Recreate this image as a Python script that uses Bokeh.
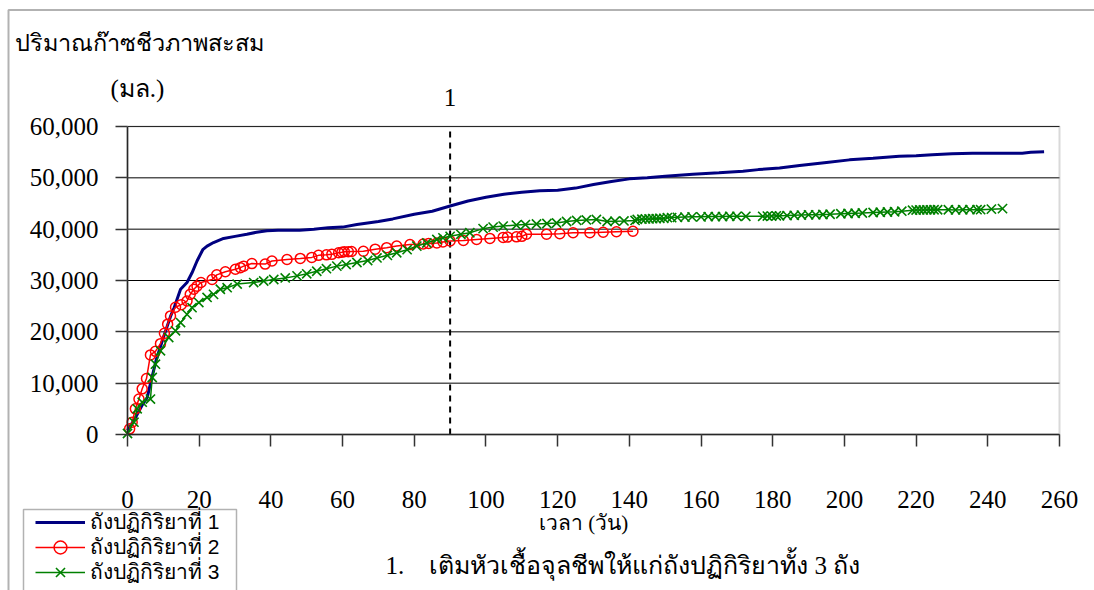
from bokeh.plotting import figure
from bokeh.models import (Range1d, Label, Legend, LegendItem, NumeralTickFormatter, FixedTicker,
                          BoxAnnotation, LinearAxis)
from bokeh.embed import file_html
from bokeh.resources import INLINE

# ---- data ----
days1 = [0, 2, 4, 5.5, 6.4, 8, 10, 12, 13, 14.8, 16.6, 18, 19.4, 21, 22.2, 24, 26.8, 30, 33.3, 36,
         38.9, 42, 48, 52, 56, 60, 64, 70, 74, 80, 85, 90, 95, 100, 105, 110, 115, 120, 125, 130,
         135, 140, 145, 150, 157.7, 165, 171.7, 176, 181.9, 187.5, 195, 201.4, 208, 215.3, 220,
         224.5, 230, 235.7, 245, 249.6, 252, 255.7]
gas1 = [800, 3000, 5600, 7200, 9900, 14500, 18900, 23000, 24700, 28300, 29600, 31500, 33800, 36000,
        36700, 37400, 38200, 38600, 39000, 39400, 39700, 39800, 39800, 40000, 40300, 40400, 40900,
        41500, 42000, 42900, 43500, 44500, 45500, 46200, 46800, 47200, 47500, 47600, 48000, 48700,
        49300, 49800, 50000, 50300, 50700, 51000, 51300, 51600, 51900, 52400, 53000, 53500, 53800,
        54200, 54300, 54500, 54700, 54800, 54800, 54800, 55000, 55100]

days2 = [0.6, 1.3, 2.2, 3.2, 4.1, 5.3, 6.4, 7.8, 9.2, 10.3, 11.2, 12, 13.4, 15, 16.6, 17.5, 18.5,
         19.4, 20.5, 23.6, 24.9, 27.3, 30.1, 31.5, 32.4, 34.7, 38.4, 40.3, 44.5, 48.2, 51.4, 53.3,
         55.5, 57, 58.9, 59.8, 60.5, 61.6, 62.5, 65.8, 69.1, 72.3, 75.1, 78.8, 82.5, 84, 86.3, 88,
         90, 93.7, 97.4, 101.1, 104.8, 106, 108.5, 110, 111.3, 116.9, 120.6, 124.3, 129, 132.7,
         136.4, 141]
gas2 = [1100, 2400, 5000, 6900, 8900, 10900, 15500, 16200, 17700, 19700, 21500, 23100, 24800, 25300,
        26000, 27300, 28300, 28900, 29600, 30200, 31100, 31700, 32200, 32500, 32800, 33300, 33200,
        33800, 34100, 34300, 34500, 34900, 35000, 35100, 35400, 35500, 35600, 35600, 35650, 35700,
        36100, 36400, 36700, 37000, 37100, 37200, 37300, 37500, 37700, 37800, 38000, 38200, 38400,
        38450, 38500, 38600, 39000, 39000, 39100, 39300, 39300, 39400, 39500, 39600]

days3 = [0, 1.8, 2.7, 4.1, 6.4, 6.9, 7.8, 9.2, 11.5, 13.4, 14.8, 16.6, 18, 19.9, 22.2, 24, 25.9,
         27.8, 30.6, 35.2, 38, 40.8, 44, 47.3, 50, 52.8, 55.5, 58.4, 61, 64, 67, 69.6, 72.5, 75.1,
         78, 80.7, 83.5, 86.3, 88, 90, 93, 95.5, 99.2, 102, 104.8, 108.5, 111, 114.1, 117, 119.7,
         122.5, 125.3, 128, 130.8, 133.8, 136, 138.5, 141.6, 142.2, 143.5, 144.5, 145.5, 146.5,
         147.5, 148.5, 149.6, 150.6, 151.8, 153.4, 155.5, 157.5, 160, 162, 164, 166, 168, 170,
         172.5, 177.2, 178.5, 179.7, 181, 181.9, 184, 186, 188, 190, 192, 194, 196, 199, 201, 203,
         205, 208, 210, 212, 214, 216, 219, 220, 221, 222, 223, 224, 225, 226, 229, 231, 233, 235,
         237, 238, 241, 244.1]
gas3 = [200, 2400, 5000, 6300, 6900, 11100, 13700, 16300, 18900, 20200, 21800, 23400, 24700, 25700,
        26700, 27300, 28300, 28600, 29300, 29600, 29900, 30200, 30500, 30900, 31300, 31800, 32300,
        32800, 33100, 33500, 33900, 34400, 34900, 35400, 36000, 36700, 37300, 38000, 38300, 38600,
        39000, 39300, 40100, 40400, 40600, 40800, 40900, 41000, 41100, 41200, 41500, 41700, 41800,
        41900, 41500, 41550, 41600, 41700, 41900, 41950, 42000, 42000, 42050, 42050, 42100, 42100,
        42250, 42250, 42300, 42350, 42400, 42400, 42450, 42450, 42450, 42500, 42500, 42500, 42500,
        42550, 42550, 42600, 42600, 42650, 42700, 42750, 42800, 42800, 42850, 42900, 43000, 43050,
        43100, 43150, 43250, 43300, 43350, 43400, 43500, 43700, 43720, 43750, 43750, 43770, 43770,
        43780, 43780, 43780, 43750, 43780, 43800, 43800, 43800, 43900, 44000]

series_names = ["ถังปฏิกิริยาที่ 1", "ถังปฏิกิริยาที่ 2", "ถังปฏิกิริยาที่ 3"]
x_ticks = list(range(0, 261, 20))
y_ticks = list(range(0, 60001, 10000))
X_MIN, X_MAX = 0, 260
Y_MIN, Y_MAX = 0, 60000
event_day = 90
event_label = "1"
title_text = "ปริมาณก๊าซชีวภาพสะสม"
unit_text = "(มล.)"
x_title = "เวลา (วัน)"
note_text = "1.\u00a0\u00a0\u00a0\u00a0เติมหัวเชื้อจุลชีพให้แก่ถังปฏิกิริยาทั้ง 3 ถัง"

SERIF = "Liberation Serif"
SANS = "Liberation Sans"

# pixel geometry of the plot area inside the 1094x590 canvas
W, H = 1094, 590
PL, PR, PT, PB = 127, 1059, 126, 434
sx = (X_MAX - X_MIN) / (PR - PL)      # data units per pixel (x)
sy = (Y_MAX - Y_MIN) / (PB - PT)      # data units per pixel (y)

def dx(px):
    return X_MIN + (px - PL) * sx

def dy(py):
    return Y_MIN + (PB - py) * sy

p = figure(width=W, height=H, output_backend="svg", toolbar_location=None,
           x_range=Range1d(dx(0), dx(W)), y_range=Range1d(dy(H), dy(0)),
           x_axis_type=None, y_axis_type=None,
           min_border=0, min_border_left=0, min_border_right=0,
           min_border_top=0, min_border_bottom=0)
p.title.visible = False
p.background_fill_color = "white"
p.border_fill_color = "white"
p.outline_line_color = None
p.grid.visible = False

# horizontal gridlines across the plot area only
p.segment(x0=[X_MIN] * len(y_ticks), x1=[X_MAX] * len(y_ticks), y0=y_ticks, y1=y_ticks,
          line_color="black", line_width=1)

# plot-area frame (grey)
p.add_layout(BoxAnnotation(left=X_MIN, right=X_MAX, bottom=Y_MIN, top=Y_MAX,
                           fill_alpha=0, line_color="#808080", line_width=2))

# outer chart border (only top and left edges fall inside the window)
p.add_layout(BoxAnnotation(left=dx(8), right=dx(W + 50), top=dy(9.5), bottom=dy(H + 50),
                           fill_alpha=0, line_color="black", line_width=2))

xaxis = LinearAxis(fixed_location=Y_MIN, bounds=(X_MIN, X_MAX),
                   ticker=FixedTicker(ticks=x_ticks))
yaxis = LinearAxis(fixed_location=X_MIN, bounds=(Y_MIN, Y_MAX),
                   ticker=FixedTicker(ticks=y_ticks),
                   formatter=NumeralTickFormatter(format="0,0"))
for ax in (xaxis, yaxis):
    ax.axis_line_color = "black"
    ax.axis_line_width = 1.5
    ax.major_tick_line_color = "#333333"
    ax.major_tick_line_width = 1.5
    ax.major_tick_in = 0
    ax.major_tick_out = 12
    ax.minor_tick_out = 0
    ax.minor_tick_in = 0
    ax.major_label_text_font = SERIF
    ax.major_label_text_font_size = "25px"
    ax.major_label_text_color = "black"
xaxis.major_label_standoff = 44
yaxis.major_label_standoff = 17
p.add_layout(xaxis, "below")
p.add_layout(yaxis, "left")

# event marker line
p.segment(x0=[event_day], x1=[event_day], y0=[Y_MIN], y1=[Y_MAX],
          line_color="black", line_width=2, line_dash="6 5")

r1 = p.line(days1, gas1, line_color="#000080", line_width=3)
r2l = p.line(days2, gas2, line_color="#FF0000", line_width=1.5)
r2m = p.scatter(days2, gas2, marker="circle", size=10, line_color="#FF0000", line_width=1.5,
                fill_color=None)
r3l = p.line(days3, gas3, line_color="#008000", line_width=1.5)
r3m = p.scatter(days3, gas3, marker="x", size=13, line_color="#008000", line_width=1.6)

# legend box (border) and one legend per row so rows sit at exact heights
p.add_layout(BoxAnnotation(left=dx(23), right=dx(236), top=dy(509), bottom=dy(H + 50),
                           fill_color="white", fill_alpha=1, line_color="black", line_width=1.5))
ROW = 32
row_centres = [522, 547, 572]
row_renderers = [[r1], [r2l, r2m], [r3l, r3m]]
for name, rends, yc in zip(series_names, row_renderers, row_centres):
    lg = Legend(items=[LegendItem(label=name, renderers=rends)],
                location=(35, H - (yc + ROW / 2)), orientation="vertical")
    lg.border_line_color = None
    lg.background_fill_alpha = 0
    lg.label_text_font = SANS
    lg.label_text_font_size = "21px"
    lg.label_text_color = "black"
    lg.glyph_width = 50
    lg.glyph_height = ROW
    lg.label_height = ROW
    lg.label_standoff = 5
    lg.spacing = 0
    lg.padding = 0
    lg.margin = 0
    p.add_layout(lg, "center")

def lab(text, x, y, font, size, align="left"):
    p.add_layout(Label(x=x, y=y, text=text, text_font=font, text_font_size=size,
                       text_align=align, text_baseline="middle", text_color="black"))

lab(title_text, dx(14), dy(42), SERIF, "23.5px")
lab(unit_text, dx(110), dy(88), SERIF, "25px")
lab(event_label, event_day, dy(97), SERIF, "25px", align="center")
lab(x_title, dx(583), dy(522), SERIF, "21px", align="center")
lab(note_text, dx(385), dy(565), SERIF, "25px")

open("out.html", "w").write(file_html(p, INLINE))
